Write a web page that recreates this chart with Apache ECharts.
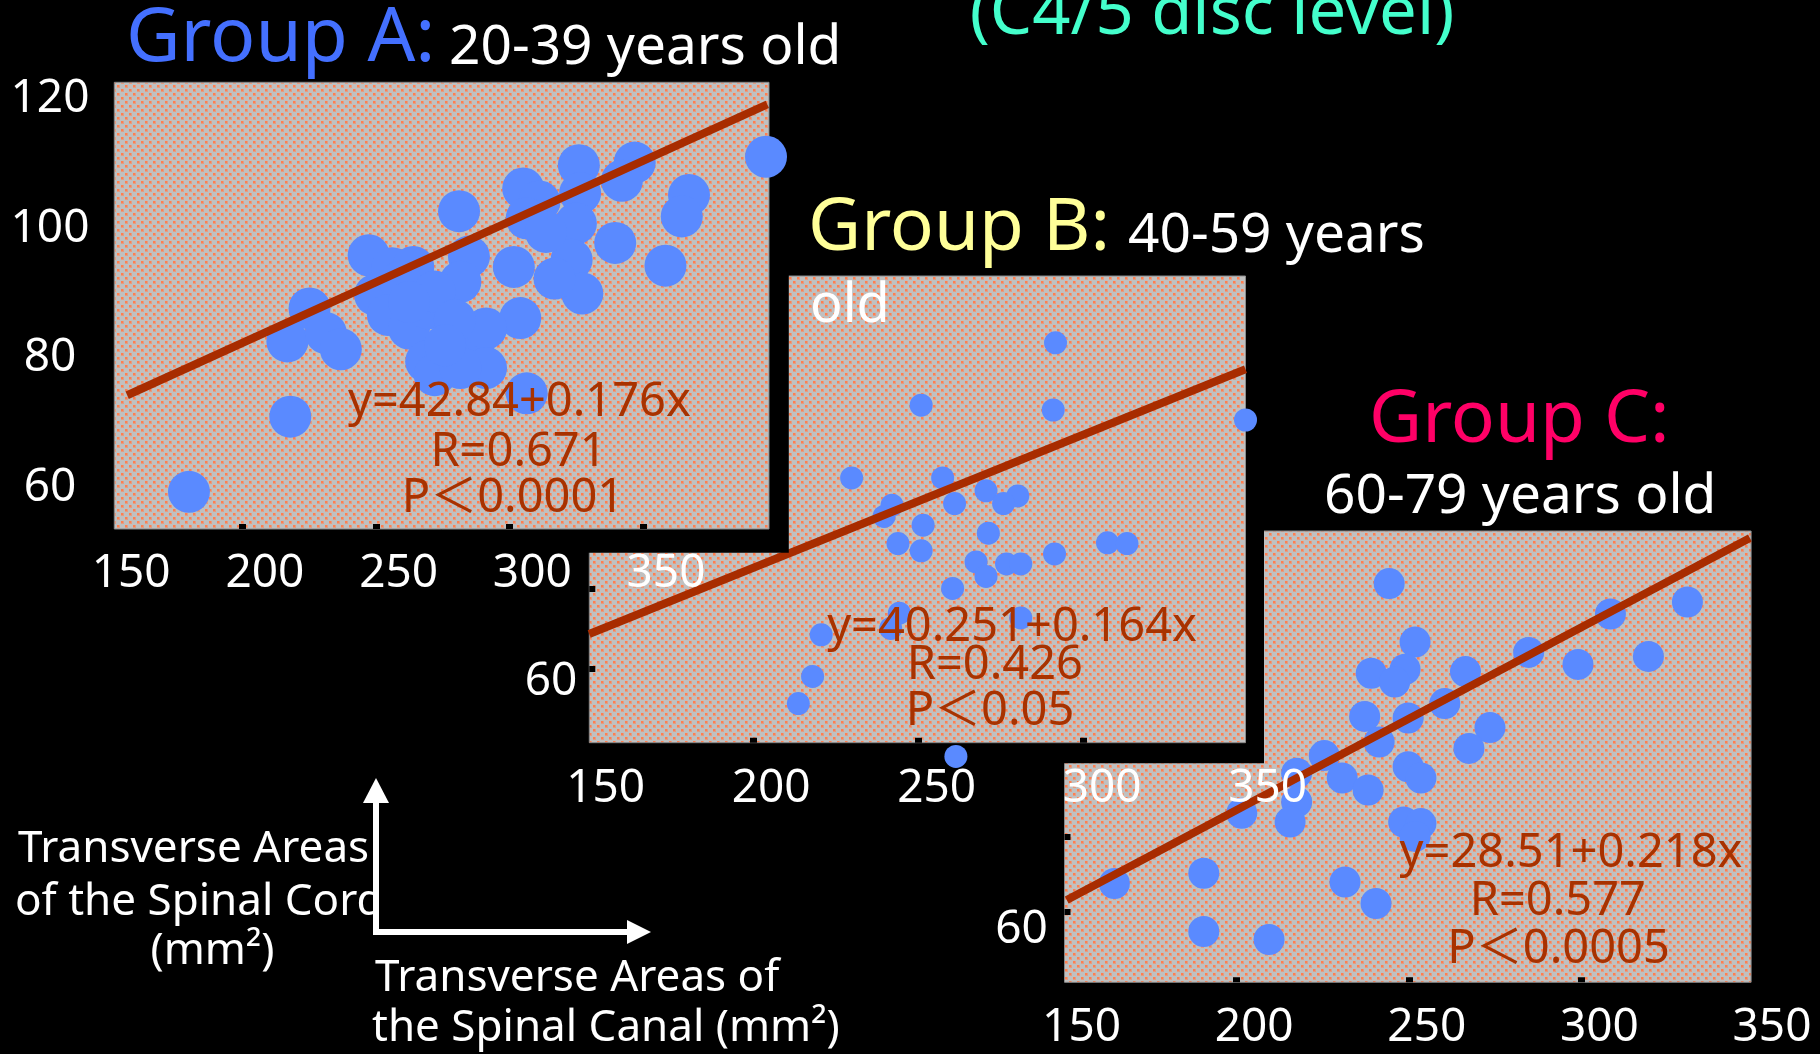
<!DOCTYPE html>
<html><head><meta charset="utf-8">
<script src="https://cdn.jsdelivr.net/npm/echarts@6/dist/echarts.min.js"></script>
<style>html,body{margin:0;padding:0;background:#000;}#c{width:1820px;height:1054px;}</style>
</head><body><div id="c"></div>
<script>
// ---------- data ----------
const xTickLabels = [150, 200, 250, 300, 350];
const aYTickLabels = [60, 80, 100, 120];
const bYTickLabels = [60];
const cYTickLabels = [60];
const aXTickMarks = [191.6, 241.5, 291.2, 341.5];
const bXTickMarks = [194.6, 244.4, 294.4];
const cXTickMarks = [194.8, 244.9, 294.8];
const bYTickMarks = [61.7, 71.7];
const cYTickMarks = [62.3, 71.7];

const groupA_x = [171.6,209.5,208.4,216.7,222.8,228.4,387.4,317.4,338.3,333.5,358.6,355.9,331.0,349.8,296.6,302.7,317.9,272.6,297.9,316.3,314.7,318.7,308.3,293.1,295.5,276.3,273.1,238.8,247.6,255.5,241.2,250.7,246.0,253.9,261.1,263.5,260.3,263.5,277.9,282.7,282.7,273.1,297.9,253.9,305.1,271.0,267.4];
const groupA_y = [59.4,71.0,82.6,87.7,83.9,81.4,111.1,109.8,110.2,107.4,105.2,101.9,97.8,94.3,106.2,104.2,105.5,102.7,101.6,100.8,95.2,90.0,92.3,94.1,86.2,95.7,91.8,95.9,93.9,94.1,89.8,91.8,86.7,84.6,87.7,90.3,79.5,77.4,81.5,84.6,78.5,78.5,74.6,88.7,99.5,85.9,82.0];
const groupA_fitX = [148.5, 387.9];
const groupA_fitY = [74.3, 119.2];

const groupB_x = [285.9,245.3,285.2,343.3,224.3,251.8,264.9,274.5,270.2,255.4,236.5,234.1,245.9,265.6,238.3,245.3,301.6,307.5,285.6,261.9,271.1,275.4,264.9,254.8,238.7,236.1,275.4,215.1,212.5,208.2,255.8];
const groupB_y = [102.4,94.6,94.0,92.75,85.5,85.5,83.9,83.25,82.3,82.3,82.1,80.7,79.6,78.6,77.3,76.4,77.4,77.3,76.0,75.0,74.75,74.75,73.2,71.7,68.6,66.7,68.0,65.9,60.7,57.3,50.7];
const groupB_fitX = [145.0, 343.3];
const groupB_fitY = [66.0, 99.1];

const groupC_x = [239.1,325.5,303.2,246.6,314.2,279.5,293.8,261.2,233.9,243.7,240.7,255.2,232.0,244.6,268.3,262.2,236.2,220.3,225.5,233.0,244.6,248.3,212.3,212.3,210.4,196.4,243.3,248.3,246.6,185.4,159.5,226.3,235.3,185.4,204.3];
const groupC_y = [103.3,101.0,99.5,96.0,94.2,94.7,93.2,92.3,92.1,92.6,91.0,88.3,86.7,86.5,85.3,82.7,83.5,81.8,79.0,77.5,80.4,79.0,79.6,76.0,73.5,74.6,73.5,73.3,71.7,67.1,65.8,66.0,63.3,59.8,58.8];
const groupC_fitX = [145.7, 343.6];
const groupC_fitY = [63.75, 109.0];

const statsA = ['y=42.84+0.176x', 'R=0.671', 'P\uFF1C0.0001'];
const statsB = ['y=40.251+0.164x', 'R=0.426', 'P\uFF1C0.05'];
const statsC = ['y=28.51+0.218x', 'R=0.577', 'P\uFF1C0.0005'];

// ---------- styling ----------
const FF = "'Noto Sans', 'Noto Sans CJK SC', sans-serif";
const DOT = '#5a8aff';
const FIT = '#a82c00';
const EQ = '#a83200';
function zip(a, b) { return a.map((v, i) => [v, b[i]]); }
function makePattern() {
  const c = document.createElement('canvas'); c.width = 8; c.height = 8;
  const g = c.getContext('2d');
  g.fillStyle = '#c0c0c0'; g.fillRect(0, 0, 8, 8);
  g.fillStyle = '#ff7f50';
  g.fillRect(1, 1, 2, 2); g.fillRect(5, 5, 2, 2);
  g.fillStyle = 'rgba(255,127,80,0.55)';
  g.fillRect(3, 1, 1, 3); g.fillRect(1, 3, 2, 1);
  g.fillRect(7, 5, 1, 3); g.fillRect(5, 7, 2, 1);
  return c;
}
const pat = { image: makePattern(), repeat: 'repeat' };

const panels = [
  { zl: 2, grid: { left: 114.3, top: 82.3, width: 654.7, height: 446.7 }, bg: [114.3, 82.3, 654.7, 446.7],
    x: [143.68, 388.52], y: [53.66, 122.59], yLabels: aYTickLabels, xTicks: aXTickMarks, yTicks: [],
    xMargin: 45, yMargin: 64.3, xs: groupA_x, ys: groupA_y, fx: groupA_fitX, fy: groupA_fitY, size: 42 },
  { zl: 1, grid: { left: 589.3, top: 276, width: 685.0, height: 466.7 }, bg: [589.3, 276, 656.2, 466.7],
    x: [145.04, 352], y: [52.41, 110.75], yLabels: bYTickLabels, xTicks: bXTickMarks, yTicks: bYTickMarks,
    xMargin: 46, yMargin: 38.3, xs: groupB_x, ys: groupB_y, fx: groupB_fitX, fy: groupB_fitY, size: 23 },
  { zl: 0, grid: { left: 1064.5, top: 531, width: 714.4, height: 451.3 }, bg: [1064.5, 531, 686.6, 451.3],
    x: [145.05, 352], y: [53.46, 109.875], yLabels: cYTickLabels, xTicks: cXTickMarks, yTicks: cYTickMarks,
    xMargin: 46, yMargin: 43, xs: groupC_x, ys: groupC_y, fx: groupC_fitX, fy: groupC_fitY, size: 31 }
];

const grid = [], xAxis = [], yAxis = [], series = [], elements = [];
panels.forEach((p, i) => {
  grid.push(Object.assign({ zlevel: p.zl, z: 2, show: false }, p.grid));
  const labelStyle = { color: '#fff', fontSize: 46, fontFamily: FF };
  xAxis.push({ type: 'value', gridIndex: i, min: p.x[0], max: p.x[1], zlevel: p.zl, z: 6,
    axisLine: { show: false }, splitLine: { show: false },
    axisTick: { show: true, inside: true, length: 5, lineStyle: { color: '#000', width: 7 }, customValues: p.xTicks },
    axisLabel: Object.assign({ customValues: xTickLabels, margin: p.xMargin, verticalAlign: 'middle', align: 'center' }, labelStyle) });
  yAxis.push({ type: 'value', gridIndex: i, min: p.y[0], max: p.y[1], zlevel: p.zl, z: 6,
    axisLine: { show: false }, splitLine: { show: false },
    axisTick: { show: p.yTicks.length > 0, inside: true, length: 6, lineStyle: { color: '#000', width: 6 }, customValues: p.yTicks.length ? p.yTicks : [0] },
    axisLabel: Object.assign({ customValues: p.yLabels, margin: p.yMargin, align: 'center', verticalAlign: 'middle' }, labelStyle) });
  series.push({ type: 'scatter', xAxisIndex: i, yAxisIndex: i, zlevel: p.zl, z: 4, clip: false,
    symbol: 'circle', symbolSize: p.size, itemStyle: { color: DOT, opacity: 1 }, data: zip(p.xs, p.ys) });
  series.push({ type: 'line', xAxisIndex: i, yAxisIndex: i, zlevel: p.zl, z: 5, clip: false,
    symbol: 'none', lineStyle: { color: FIT, width: 8, cap: 'butt' }, data: zip(p.fx, p.fy) });
  elements.push({ type: 'rect', zlevel: p.zl, z: 1, silent: true,
    shape: { x: p.bg[0], y: p.bg[1], width: p.bg[2], height: p.bg[3] },
    style: { fill: pat, stroke: '#8a8a8a', lineWidth: 1 } });
});

// black slide boxes that overlap the next panel
elements.push({ type: 'rect', zlevel: 2, z: 0, silent: true, shape: { x: 0, y: 0, width: 788.8, height: 552.7 }, style: { fill: '#000' } });
elements.push({ type: 'rect', zlevel: 1, z: 0, silent: true, shape: { x: 500, y: 262, width: 764, height: 501.3 }, style: { fill: '#000' } });

function txt(text, x, y, size, color, zl, align) {
  elements.push({ type: 'text', zlevel: zl, z: 20, x: x, y: y, silent: true,
    style: { text: text, font: size + 'px ' + FF, fill: color, textAlign: align || 'left', textVerticalAlign: 'middle' } });
}
txt('Group A:', 126, 40, 75, '#4470ff', 2);
txt('20-39 years old', 449, 48, 55, '#fff', 2);
txt('(C4/5 disc level)', 1212, 15, 67, '#44ffcc', 0, 'center');
txt('Group B:', 808, 229, 73, '#ffff99', 1);
txt('40-59 years', 1128, 236, 55, '#fff', 1);
txt('old', 810, 307, 54, '#fff', 1);
txt('Group C:', 1369, 421, 73, '#ff0066', 0);
txt('60-79 years old', 1324, 497, 55, '#fff', 0);

const eqPos = [
  [[519.4, 403], [518.5, 452.5], [513, 498.7], 2, statsA],
  [[1012, 628], [994.8, 666], [990, 711.7], 1, statsB],
  [[1571, 854], [1557.8, 901.7], [1558.6, 950], 0, statsC]
];
eqPos.forEach(e => { for (let k = 0; k < 3; k++) txt(e[4][k], e[k][0], e[k][1], 47, EQ, e[3], 'center'); });

// axis legend at bottom-left
txt('Transverse Areas', 18, 849, 44, '#fff', 3);
txt('of the Spinal Cord', 15, 902, 44, '#fff', 3);
txt('(mm\u00B2)', 212.5, 951, 44, '#fff', 3, 'center');
elements.push({ type: 'rect', zlevel: 3, z: 30, silent: true, shape: { x: 379, y: 870, width: 80, height: 60 }, style: { fill: '#000' } });
elements.push({ type: 'line', zlevel: 3, z: 31, silent: true, shape: { x1: 376, y1: 935, x2: 376, y2: 800 }, style: { stroke: '#fff', lineWidth: 6 } });
elements.push({ type: 'polygon', zlevel: 3, z: 31, silent: true, shape: { points: [[376, 778], [363, 803], [389, 803]] }, style: { fill: '#fff' } });
elements.push({ type: 'line', zlevel: 3, z: 31, silent: true, shape: { x1: 373, y1: 932, x2: 630, y2: 932 }, style: { stroke: '#fff', lineWidth: 6 } });
elements.push({ type: 'polygon', zlevel: 3, z: 31, silent: true, shape: { points: [[651, 932], [627, 920], [627, 944]] }, style: { fill: '#fff' } });
txt('Transverse Areas of', 375, 978, 44, '#fff', 3);
txt('the Spinal Canal (mm\u00B2)', 372, 1028, 44, '#fff', 3);

const chart = echarts.init(document.getElementById('c'), null, { renderer: 'canvas' });
chart.setOption({
  backgroundColor: '#000',
  animation: false,
  grid: grid, xAxis: xAxis, yAxis: yAxis, series: series,
  graphic: { elements: elements }
});
</script></body></html>
